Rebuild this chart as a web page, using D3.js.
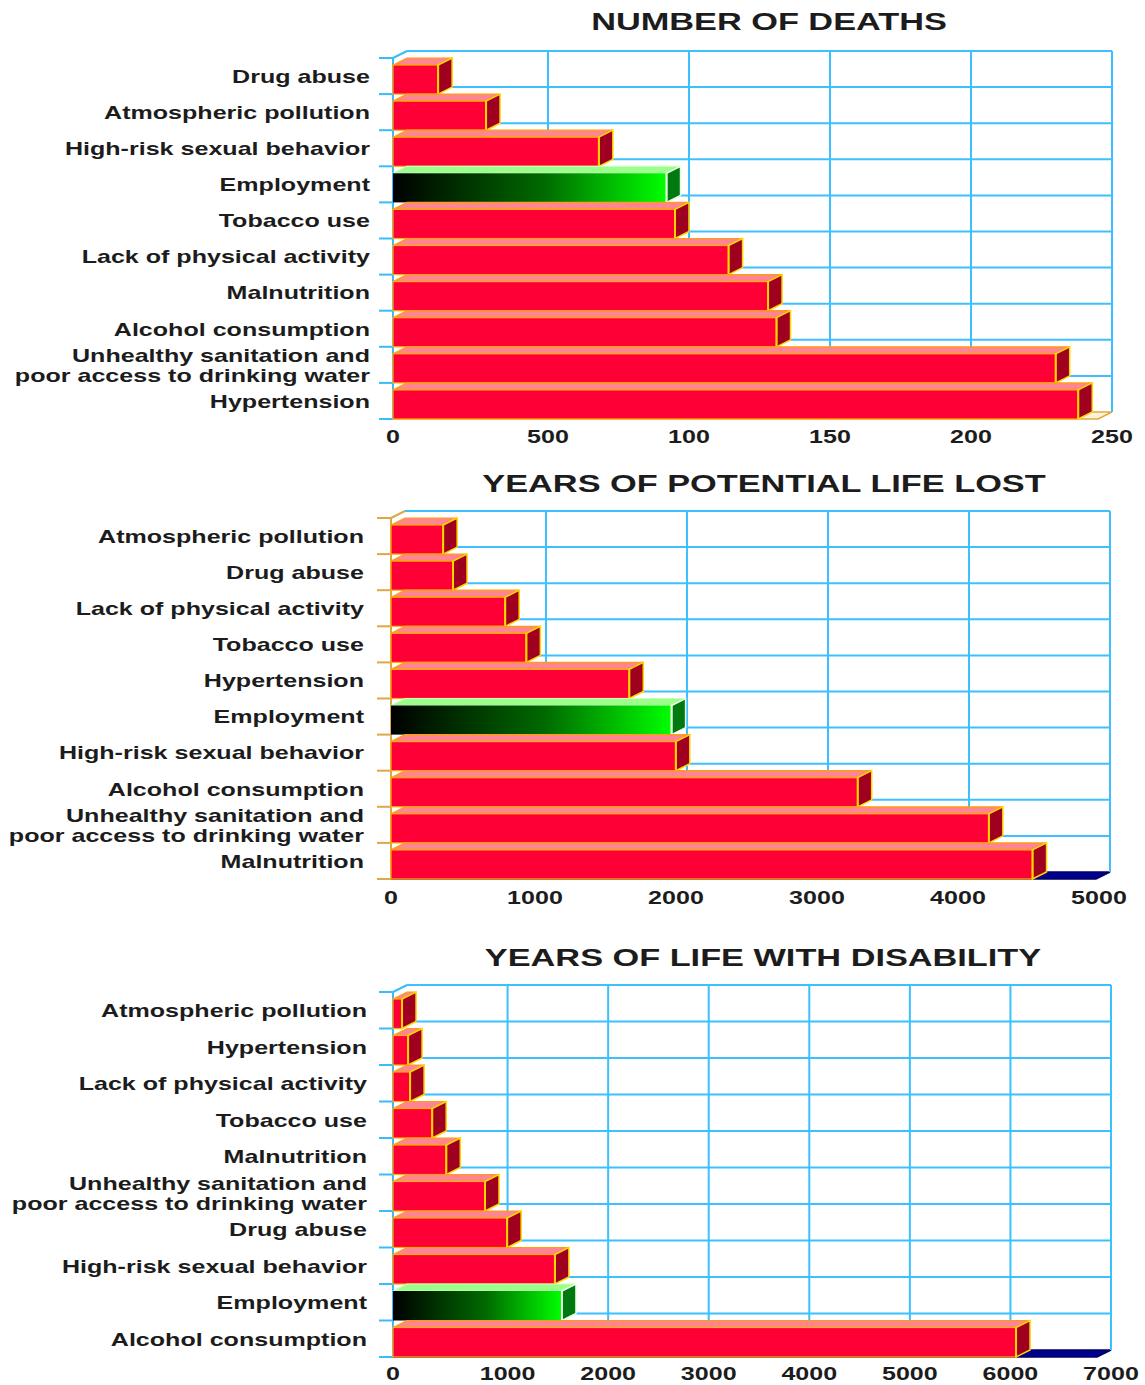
<!DOCTYPE html>
<html>
<head>
<meta charset="utf-8">
<script src="https://cdn.jsdelivr.net/npm/d3@7"></script>
<style>
  html, body { margin: 0; padding: 0; background: #ffffff; }
  svg { display: block; }
  text { font-family: "Liberation Sans", Arial, sans-serif; font-weight: bold; fill: #1c1c1c; }
</style>
</head>
<body>
<script>
// ---------- DATA ----------
const deathsCategories = ["Drug abuse", "Atmospheric pollution", "High-risk sexual behavior", "Employment",
  "Tobacco use", "Lack of physical activity", "Malnutrition", "Alcohol consumption",
  "Unhealthy sanitation and\npoor access to drinking water", "Hypertension"];
const deathsValues = [16, 33, 73, 97, 100, 119, 133, 136, 235, 243];
const deathsTicks = [0, 50, 100, 150, 200, 250];
const deathsTickLabels = ["0", "500", "100", "150", "200", "250"];

const yplCategories = ["Atmospheric pollution", "Drug abuse", "Lack of physical activity", "Tobacco use",
  "Hypertension", "Employment", "High-risk sexual behavior", "Alcohol consumption",
  "Unhealthy sanitation and\npoor access to drinking water", "Malnutrition"];
const yplValues = [370, 440, 810, 960, 1690, 1990, 2020, 3310, 4240, 4550];
const yplTicks = [0, 1000, 2000, 3000, 4000, 5000];
const yplTickLabels = ["0", "1000", "2000", "3000", "4000", "5000"];

const ylwdCategories = ["Atmospheric pollution", "Hypertension", "Lack of physical activity", "Tobacco use",
  "Malnutrition", "Unhealthy sanitation and\npoor access to drinking water", "Drug abuse",
  "High-risk sexual behavior", "Employment", "Alcohol consumption"];
const ylwdValues = [90, 150, 170, 390, 530, 915, 1135, 1610, 1680, 6195];
const ylwdTicks = [0, 1000, 2000, 3000, 4000, 5000, 6000, 7000];
const ylwdTickLabels = ["0", "1000", "2000", "3000", "4000", "5000", "6000", "7000"];

const highlightCategory = "Employment";

// ---------- LAYOUT ----------
const W = 1145, H = 1385;
const DX = 14, DY = 7;
const TEXT_SCALE = 1.32;

const charts = [
  { title: "NUMBER OF DEATHS", cats: deathsCategories, vals: deathsValues, ticks: deathsTicks, tickLabels: deathsTickLabels,
    max: 250, x0: 393, right: 1112, frontTop: 58, frontBottom: 419, titleX: 769, titleY: 22, labelRight: 370, tickY: 436,
    axisColor: "#38BDF8", floorFill: "#FFF4DA", floorStroke: "#E3A93A", tickOffset: DX },
  { title: "YEARS OF POTENTIAL LIFE LOST", cats: yplCategories, vals: yplValues, ticks: yplTicks, tickLabels: yplTickLabels,
    max: 5000, x0: 391, right: 1110, frontTop: 518, frontBottom: 879, titleX: 764, titleY: 484, labelRight: 364, tickY: 897,
    axisColor: "#DBA84A", floorFill: "#00008C", floorStroke: "#000066", tickOffset: 3 },
  { title: "YEARS OF LIFE WITH DISABILITY", cats: ylwdCategories, vals: ylwdValues, ticks: ylwdTicks, tickLabels: ylwdTickLabels,
    max: 7000, x0: 393, right: 1111, frontTop: 992, frontBottom: 1357, titleX: 763, titleY: 958, labelRight: 367, tickY: 1373,
    axisColor: "#38BDF8", floorFill: "#00008C", floorStroke: "#000066", tickOffset: DX }
];

const GRID = "#3CC0FF";
const RED_FRONT = "#FF0036", RED_TOP = "#FF8593", RED_SIDE = "#A0001F", RED_STROKE = "#FFD500";
const GREEN_TOP = "#9CFF8C", GREEN_SIDE = "#007A10", GREEN_STROKE = "#E8FFE0";

const svg = d3.select("body").append("svg").attr("width", W).attr("height", H);
svg.append("rect").attr("width", W).attr("height", H).attr("fill", "#fff");

const defs = svg.append("defs");
const grad = defs.append("linearGradient").attr("id", "greenGrad")
  .attr("x1", "0").attr("y1", "0").attr("x2", "1").attr("y2", "0");
grad.append("stop").attr("offset", "0%").attr("stop-color", "#000000");
grad.append("stop").attr("offset", "55%").attr("stop-color", "#006A00");
grad.append("stop").attr("offset", "100%").attr("stop-color", "#00FF00");

const poly = pts => pts.map(p => p.join(",")).join(" ");

charts.forEach(c => {
  const g = svg.append("g");
  const back0 = c.x0 + DX;
  const x = d3.scaleLinear().domain([0, c.max]).range([0, c.right - back0]);
  const y = d3.scaleBand().domain(c.cats).range([c.frontTop, c.frontBottom]).paddingInner(0).paddingOuter(0);
  const bandH = y.bandwidth();
  const backTop = c.frontTop - DY, backBottom = c.frontBottom - DY;
  const bounds = c.cats.map(d => y(d)).concat([c.frontBottom]);

  // Title
  g.append("text")
    .attr("transform", `translate(${c.titleX},${c.titleY}) scale(1.46,1)`)
    .attr("text-anchor", "middle").attr("dy", "0.36em")
    .style("font-size", "23.5px").text(c.title);

  // Floor
  g.append("polygon")
    .attr("points", poly([[c.x0, c.frontBottom], [c.x0 + x(c.max), c.frontBottom],
      [back0 + x(c.max), backBottom], [back0, backBottom]]))
    .attr("fill", c.floorFill).attr("stroke", c.floorStroke).attr("stroke-width", 1.5);

  // Back-wall grid: horizontal lines
  g.selectAll(".hgrid").data(bounds.slice(0, -1)).enter().append("line")
    .attr("x1", back0).attr("x2", back0 + x(c.max))
    .attr("y1", d => d - DY).attr("y2", d => d - DY)
    .attr("stroke", GRID).attr("stroke-width", 2);
  // vertical lines
  g.selectAll(".vgrid").data(c.ticks.slice(1)).enter().append("line")
    .attr("x1", d => back0 + x(d)).attr("x2", d => back0 + x(d))
    .attr("y1", backTop).attr("y2", backBottom)
    .attr("stroke", GRID).attr("stroke-width", 2);

  // Left axis + ticks
  g.append("line").attr("x1", c.x0).attr("x2", c.x0).attr("y1", c.frontTop).attr("y2", c.frontBottom)
    .attr("stroke", c.axisColor).attr("stroke-width", 2);
  g.append("line").attr("x1", c.x0).attr("x2", back0).attr("y1", c.frontTop).attr("y2", backTop)
    .attr("stroke", c.axisColor).attr("stroke-width", 2);
  g.selectAll(".ltick").data(bounds).enter().append("line")
    .attr("x1", c.x0 - 14).attr("x2", c.x0).attr("y1", d => d).attr("y2", d => d)
    .attr("stroke", c.axisColor).attr("stroke-width", 2);

  // Bars
  const bars = g.selectAll(".bar").data(c.cats.map((d, i) => ({ cat: d, v: c.vals[i] }))).enter()
    .append("g");
  bars.each(function (d) {
    const b = d3.select(this);
    const hl = d.cat === highlightCategory;
    const top = y(d.cat), bottom = top + bandH;
    const xr = c.x0 + x(d.v);
    const stroke = hl ? GREEN_STROKE : RED_STROKE;
    // top face
    b.append("polygon")
      .attr("points", poly([[c.x0, top + DY], [xr, top + DY], [xr + DX, top], [c.x0 + DX, top]]))
      .attr("fill", hl ? GREEN_TOP : RED_TOP).attr("stroke", hl ? "#C8FFC0" : "#FFA000").attr("stroke-width", 1.2);
    // front face
    b.append("rect")
      .attr("x", c.x0).attr("y", top + DY).attr("width", x(d.v)).attr("height", bottom - top - DY)
      .attr("fill", hl ? "url(#greenGrad)" : RED_FRONT)
      .attr("stroke", hl ? "none" : "#FFB000").attr("stroke-width", 1.2);
    // side face
    b.append("polygon")
      .attr("points", poly([[xr, top + DY], [xr + DX, top], [xr + DX, bottom - DY], [xr, bottom]]))
      .attr("fill", hl ? GREEN_SIDE : RED_SIDE).attr("stroke", stroke).attr("stroke-width", 1.5);
    // front right edge highlight
    b.append("line").attr("x1", xr).attr("x2", xr).attr("y1", top + DY).attr("y2", bottom)
      .attr("stroke", stroke).attr("stroke-width", 2);
  });

  // Category labels
  g.selectAll(".lab").data(c.cats).enter().append("g").each(function (d) {
    const lines = d.split("\n");
    const cy = y(d) + bandH / 2;
    const lh = 20;
    lines.forEach((ln, k) => {
      d3.select(this).append("text")
        .attr("transform", `translate(${c.labelRight},${cy + (k - (lines.length - 1) / 2) * lh}) scale(${TEXT_SCALE},1)`)
        .attr("text-anchor", "end").attr("dy", "0.36em")
        .style("font-size", "19px").text(ln);
    });
  });

  // Value tick labels
  g.selectAll(".xt").data(c.ticks).enter().append("text")
    .attr("transform", (d, i) => {
      const px = d === 0 ? c.x0 : c.x0 + c.tickOffset + x(d);
      return `translate(${px},${c.tickY}) scale(${TEXT_SCALE},1)`;
    })
    .attr("text-anchor", "middle").attr("dy", "0.36em")
    .style("font-size", "19px").text((d, i) => c.tickLabels[i]);
});
</script>
</body>
</html>
